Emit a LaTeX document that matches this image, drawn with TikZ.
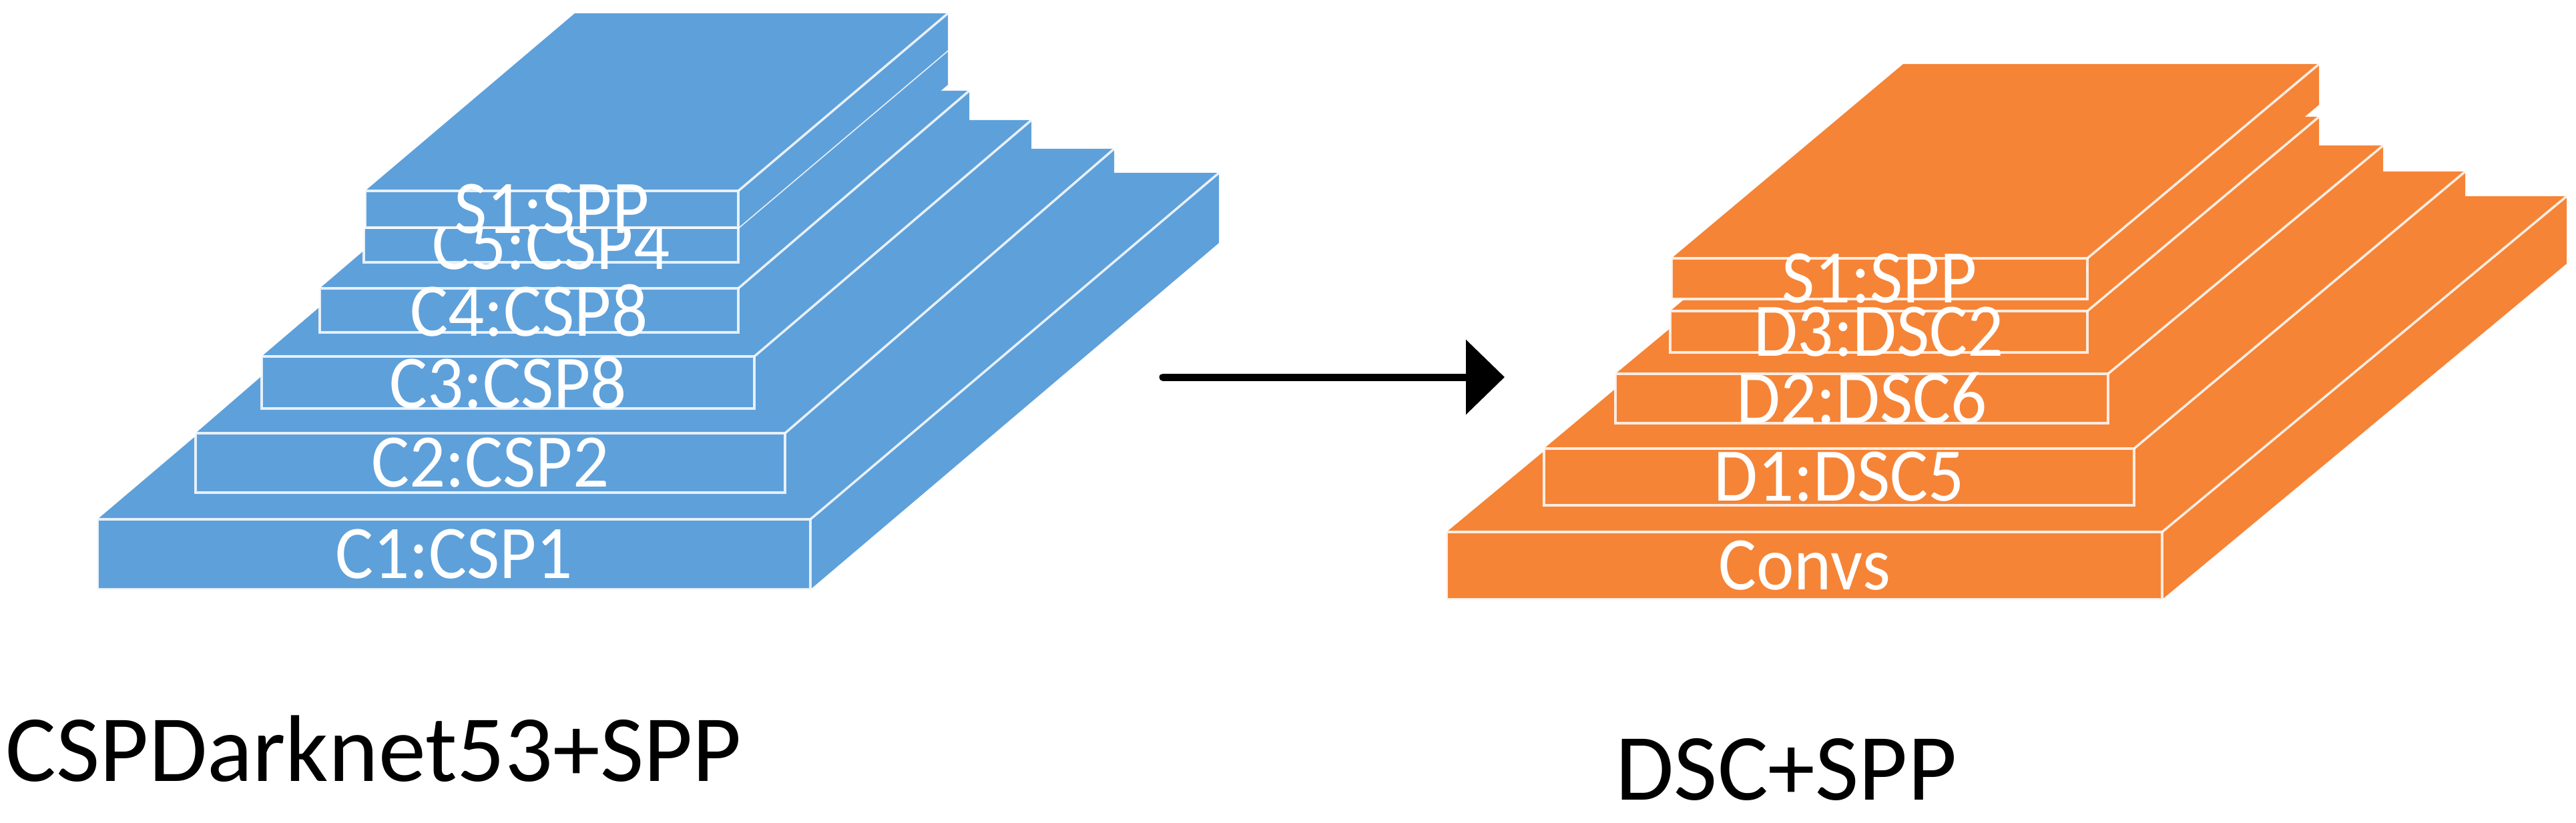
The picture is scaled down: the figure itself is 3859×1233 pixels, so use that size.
\documentclass[tikz,border=0pt]{standalone}
\usepackage{fontspec}
\setmainfont{Carlito}
\usetikzlibrary{arrows.meta}
\definecolor{blk blue}{RGB}{94,160,218}
\definecolor{blk orange}{RGB}{245,132,55}
\tikzset{
  edgeline/.style={draw=white, draw opacity=0.85, line width=3.5pt, line join=miter},
  lbl/.style={text=white, inner sep=0pt, yscale=1.06, transform shape, font=\fontsize{107}{107}\selectfont},
  caption/.style={text=black, inner sep=0pt, anchor=base, font=\fontsize{142}{142}\selectfont},
  flow/.style={line width=11pt, line cap=round, -{Triangle[length=58pt, width=110pt]}}
}
% #1 name, #2 colour, #3 xl, #4 xr, #5 yt, #6 yb, #7 dx, #8 dy (upwards), #9 label
\newcommand\slab[9]{%
  \fill[#2] (#3,#5) -- ({#3+#7},{#5-#8}) -- ({#4+#7},{#5-#8}) -- ({#4+#7},{#6-#8})
     -- (#4,#6) -- (#3,#6) -- cycle;
  \draw[edgeline] (#3,#5) rectangle (#4,#6);
  \draw[edgeline] (#4,#5) -- ({#4+#7},{#5-#8});
  \node[lbl] (#1) at ({(#3+#4)/2},{(#5+#6)/2}) {#9};
}
\begin{document}
\begin{tikzpicture}[x=1pt, y=-1pt]
\useasboundingbox (0,0) rectangle (3859,1233);
% left stack
\slab{c1}{blk blue}{146}{1214}{778}{883}{612}{519}{C1:CSP1}
\slab{c2}{blk blue}{293}{1176}{649}{738}{493}{426}{C2:CSP2}
\slab{c3}{blk blue}{392}{1130}{534}{612}{415}{354}{C3:CSP8}
\slab{c4}{blk blue}{479}{1106}{432}{498}{346}{296}{C4:CSP8}
\slab{c5}{blk blue}{545}{1106}{341}{393}{314}{266}{C5:CSP4}
\slab{s1a}{blk blue}{547}{1106}{286}{341}{314}{266}{S1:SPP}
% right stack
\slab{cv}{blk orange}{2167}{3239}{797}{898}{606}{503}{Convs}
\slab{d1}{blk orange}{2313}{3197}{672}{757}{496}{415}{D1:DSC5}
\slab{d2}{blk orange}{2420}{3158}{560}{634}{412}{342}{D2:DSC6}
\slab{d3}{blk orange}{2502}{3127}{466}{528}{347}{291}{D3:DSC2}
\slab{s1b}{blk orange}{2504}{3127}{387}{448}{347}{291}{S1:SPP}
% arrow
\coordinate (arrS) at (1742,565);
\coordinate (arrE) at (2254,565);
\draw[flow] (arrS) -- (arrE);
% captions
\node[caption] (capL) at (560,1170) {CSPDarknet53+SPP};
\node[caption] (capR) at (2676,1198) {DSC+SPP};
\end{tikzpicture}
\end{document}
